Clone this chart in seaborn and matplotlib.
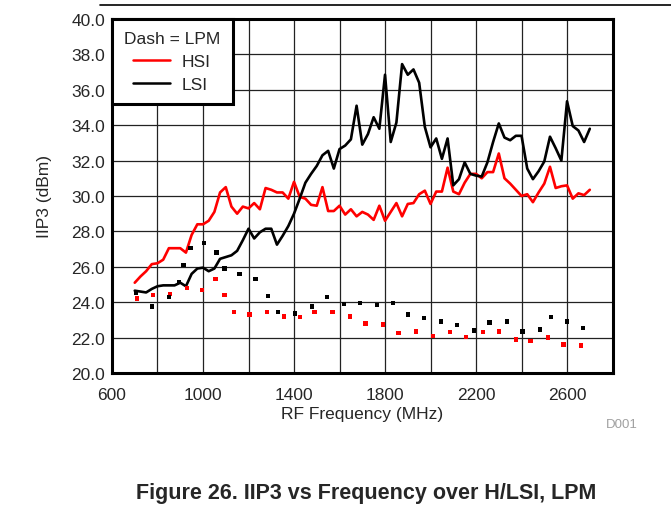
import matplotlib
matplotlib.use("Agg")
import matplotlib.pyplot as plt
import numpy as np
import pandas as pd
import seaborn as sns
from matplotlib.lines import Line2D
from matplotlib.ticker import FormatStrFormatter, MultipleLocator

# solid curves, 25 MHz steps from 700 to 2700 MHz
freq = list(range(700, 2701, 25))
hsi = [
    25.1, 25.45, 25.75, 26.15, 26.2, 26.4, 27.05, 27.05, 27.05, 26.8,
    27.8, 28.4, 28.4, 28.6, 29.1, 30.2, 30.5, 29.4, 29.0, 29.4,
    29.3, 29.6, 29.25, 30.45, 30.35, 30.2, 30.2, 29.85, 30.8, 29.95,
    29.85, 29.5, 29.45, 30.5, 29.15, 29.15, 29.45, 28.95, 29.25, 28.85,
    29.1, 28.95, 28.65, 29.45, 28.6, 29.1, 29.6, 28.85, 29.55, 29.6,
    30.1, 30.3, 29.55, 30.25, 30.25, 31.6, 30.25, 30.1, 30.75, 31.25,
    31.25, 31.0, 31.35, 31.35, 32.4, 31.0, 30.7, 30.35, 30.0, 30.1,
    29.65, 30.2, 30.7, 31.65, 30.45, 30.55, 30.6, 29.85, 30.15, 30.05,
    30.35,
]
lsi = [
    24.65, 24.6, 24.55, 24.75, 24.9, 24.95, 24.95, 24.95, 25.1, 24.9,
    25.6, 25.9, 25.95, 25.75, 25.9, 26.45, 26.55, 26.65, 26.9, 27.5,
    28.15, 27.6, 27.95, 28.15, 28.15, 27.25, 27.75, 28.3, 29.0, 29.85,
    30.75, 31.25, 31.7, 32.3, 32.55, 31.55, 32.65, 32.85, 33.2, 35.1,
    32.9, 33.5, 34.45, 33.8, 36.85, 33.05, 34.15, 37.45, 36.85, 37.15,
    36.4, 33.9, 32.75, 33.25, 32.1, 33.25, 30.6, 30.95, 31.9, 31.25,
    31.15, 31.1, 31.9, 33.05, 34.1, 33.3, 33.15, 33.4, 33.4, 31.55,
    30.95, 31.4, 31.95, 33.35, 32.7, 32.0, 35.35, 33.95, 33.7, 33.05,
    33.8,
]

# LPM curves (dashed in the original, only the dashes are visible)
lpm_lsi_freq = [705, 775, 850, 895, 915, 945, 1005, 1060, 1095, 1160, 1230, 1285,
                1330, 1405, 1480, 1545, 1620, 1690, 1765, 1835, 1900, 1970, 2045,
                2115, 2190, 2260, 2335, 2405, 2480, 2530, 2600, 2670]
lpm_lsi = [24.55, 23.75, 24.3, 25.15, 26.1, 27.05, 27.35, 26.8, 25.9, 25.6, 25.3, 24.35,
           23.45, 23.35, 23.75, 24.3, 23.9, 23.95, 23.85, 23.95, 23.3, 23.1, 22.9,
           22.7, 22.4, 22.85, 22.9, 22.35, 22.45, 23.15, 22.9, 22.55]
lpm_hsi_freq = [710, 780, 855, 930, 995, 1055, 1095, 1135, 1205, 1280, 1355, 1425,
                1490, 1570, 1645, 1715, 1790, 1860, 1935, 2010, 2085, 2155, 2230,
                2300, 2375, 2440, 2515, 2585, 2660]
lpm_hsi = [24.2, 24.4, 24.45, 24.8, 24.7, 25.3, 24.4, 23.45, 23.3, 23.45, 23.2, 23.15,
           23.45, 23.45, 23.2, 22.8, 22.75, 22.25, 22.35, 22.1, 22.3, 22.05, 22.3,
           22.35, 21.9, 21.8, 22.0, 21.6, 21.55]

colors = {"HSI": "#ff0000", "LSI": "#000000"}

solid = pd.concat([
    pd.DataFrame({"freq": freq, "iip3": hsi, "mode": "HSI"}),
    pd.DataFrame({"freq": freq, "iip3": lsi, "mode": "LSI"}),
])
dots = pd.concat([
    pd.DataFrame({"freq": lpm_hsi_freq, "iip3": lpm_hsi, "mode": "HSI"}),
    pd.DataFrame({"freq": lpm_lsi_freq, "iip3": lpm_lsi, "mode": "LSI"}),
])

sns.set_style("white")
plt.rcParams["font.family"] = ["Liberation Sans", "DejaVu Sans"]

fig = plt.figure(figsize=(6.71, 5.06), dpi=100)
ax = fig.add_axes([0.1669, 0.2609, 0.746, 0.6996])

sns.lineplot(data=solid, x="freq", y="iip3", hue="mode", palette=colors,
             linewidth=1.9, legend=False, ax=ax, zorder=3)
sns.scatterplot(data=dots, x="freq", y="iip3", hue="mode", palette=colors,
                marker="s", s=10, linewidth=0, legend=False, ax=ax, zorder=3)

ax.set_xlim(600, 2800)
ax.set_ylim(20, 40)
ax.xaxis.set_major_locator(MultipleLocator(400))
ax.xaxis.set_minor_locator(MultipleLocator(200))
ax.yaxis.set_major_locator(MultipleLocator(2))
ax.yaxis.set_major_formatter(FormatStrFormatter("%.1f"))
ax.set_xticks([600, 1000, 1400, 1800, 2200, 2600])
ax.grid(True, which="both", axis="x", color="#222222", linewidth=0.9)
ax.grid(True, which="major", axis="y", color="#222222", linewidth=0.9)
ax.tick_params(which="both", length=0, labelsize=12.5)
ax.tick_params(axis="x", pad=10)
ax.tick_params(axis="y", pad=5)
for sp in ax.spines.values():
    sp.set_visible(True)
    sp.set_color("black")
    sp.set_linewidth(2.2)

ax.set_xlabel("RF Frequency (MHz)", fontsize=12.5, labelpad=3)
ax.set_ylabel("IIP3 (dBm)", fontsize=12.5, labelpad=14)

handles = [Line2D([], [], color=colors["HSI"], lw=1.8),
           Line2D([], [], color=colors["LSI"], lw=1.8)]
leg = ax.legend(handles, ["HSI", "LSI"], title="Dash = LPM", loc="upper left",
                borderaxespad=0, fancybox=False, framealpha=1, fontsize=12.5,
                title_fontsize=12.5, handlelength=2.1, labelspacing=0.45,
                handletextpad=0.7, borderpad=0.7)
leg.get_frame().set_edgecolor("black")
leg.get_frame().set_linewidth(2.2)
leg.set_zorder(5)

fig.text(622 / 671, 1 - 425 / 506, "D001", color="#a0a0a0", fontsize=9.5,
         ha="center", va="center")
fig.text(366 / 671, 1 - 494 / 506, "Figure 26. IIP3 vs Frequency over H/LSI, LPM",
         fontsize=15.5, fontweight="bold", ha="center", va="center")
fig.add_artist(Line2D([100 / 671, 1.0], [1 - 6 / 506, 1 - 6 / 506],
                      color="black", linewidth=1.2))

fig.savefig("out.png", dpi=100)
